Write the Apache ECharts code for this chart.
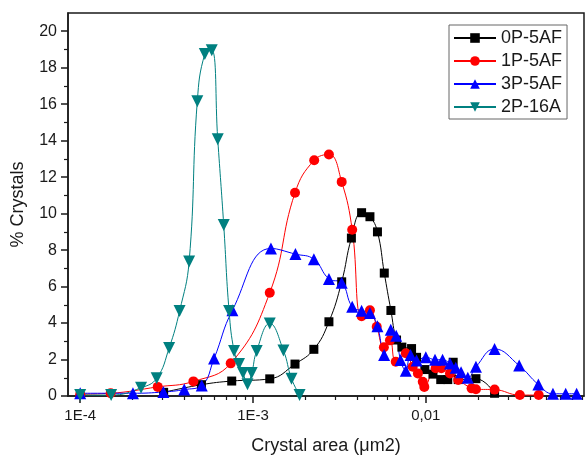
<!DOCTYPE html>
<html>
<head>
<meta charset="utf-8">
<script src="https://cdn.jsdelivr.net/npm/echarts@6/dist/echarts.min.js"></script>
<style>
  html, body { margin: 0; padding: 0; background: #fff; }
  #chart { width: 586px; height: 456px; }
</style>
</head>
<body>
<div id="chart"></div>
<script>
// series: [crystal area (um2), % crystals]
const names = ['0P-5AF', '1P-5AF', '3P-5AF', '2P-16A'];
const data0P = [
  [3.04e-4, 0.2], [5.03e-4, 0.62], [7.53e-4, 0.82], [1.25e-3, 0.94], [1.75e-3, 1.75],
  [2.25e-3, 2.56], [2.75e-3, 4.07], [3.26e-3, 6.26], [3.71e-3, 8.66], [4.25e-3, 10.05],
  [4.75e-3, 9.83], [5.25e-3, 9.0], [5.75e-3, 6.74], [6.28e-3, 4.69], [6.77e-3, 3.07],
  [7.27e-3, 2.68], [8.27e-3, 2.6], [8.84e-3, 2.12], [9.87e-3, 1.45], [1.10e-2, 1.2],
  [1.22e-2, 0.9], [1.34e-2, 0.9], [1.44e-2, 1.85], [1.54e-2, 0.9], [1.95e-2, 0.95],
  [2.5e-2, 0.15]
];
const data1P = [
  [1.0e-4, 0.1], [1.5e-4, 0.15], [2.81e-4, 0.5], [4.52e-4, 0.8], [7.43e-4, 1.79],
  [1.25e-3, 5.66], [1.75e-3, 11.14], [2.26e-3, 12.93], [2.75e-3, 13.24], [3.26e-3, 11.74],
  [3.75e-3, 9.12], [4.25e-3, 4.37], [4.75e-3, 4.7], [5.2e-3, 3.8], [5.72e-3, 2.67],
  [6.2e-3, 3.05], [6.7e-3, 1.88], [7.66e-3, 2.34], [8.4e-3, 1.6], [9.0e-3, 1.24],
  [9.6e-3, 0.78], [9.8e-3, 0.5], [1.14e-2, 1.52], [1.23e-2, 1.52], [1.38e-2, 1.24],
  [1.54e-2, 0.88], [1.84e-2, 0.42], [1.95e-2, 0.37], [2.5e-2, 0.35], [3.5e-2, 0.05],
  [4.5e-2, 0.05]
];
const data3P = [
  [1.0e-4, 0.15], [2.02e-4, 0.15], [3.03e-4, 0.22], [4.0e-4, 0.35], [5.05e-4, 0.58],
  [5.95e-4, 2.05], [7.6e-4, 4.7], [1.27e-3, 8.09], [1.76e-3, 7.78], [2.25e-3, 7.5],
  [2.75e-3, 6.42], [3.26e-3, 6.21], [3.75e-3, 4.89], [4.25e-3, 4.68], [4.75e-3, 4.55],
  [5.25e-3, 3.82], [5.74e-3, 2.25], [6.27e-3, 3.63], [6.74e-3, 3.31], [7.14e-3, 1.97],
  [7.66e-3, 1.39], [8.16e-3, 2.25], [8.84e-3, 1.95], [1.0e-2, 2.13], [1.13e-2, 1.99],
  [1.25e-2, 1.99], [1.38e-2, 1.78], [1.49e-2, 1.55], [1.6e-2, 1.3], [1.75e-2, 1.0],
  [1.95e-2, 1.6], [2.5e-2, 2.58], [3.47e-2, 1.67], [4.48e-2, 0.63], [5.44e-2, 0.12],
  [6.45e-2, 0.12], [7.46e-2, 0.12]
];
const data2P = [
  [1.0e-4, 0.05], [1.51e-4, 0.05], [2.25e-4, 0.45], [2.77e-4, 0.97], [3.27e-4, 2.63],
  [3.76e-4, 4.66], [4.27e-4, 7.38], [4.76e-4, 16.16], [5.26e-4, 18.75], [5.77e-4, 18.96],
  [6.25e-4, 14.08], [6.77e-4, 9.37], [7.27e-4, 4.66], [7.77e-4, 2.47], [8.3e-4, 1.75],
  [8.75e-4, 1.26], [9.29e-4, 0.65], [9.83e-4, 1.26], [1.05e-3, 2.47], [1.25e-3, 3.98],
  [1.5e-3, 2.5], [1.67e-3, 0.95], [1.86e-3, 0.05]
];

const xMajorTicks = [1e-4, 1e-3, 1e-2];
const xTickLabels = ['1E-4', '1E-3', '0,01'];
const xMinorTicks = [
  2e-4, 3e-4, 4e-4, 5e-4, 6e-4, 7e-4, 8e-4, 9e-4,
  2e-3, 3e-3, 4e-3, 5e-3, 6e-3, 7e-3, 8e-3, 9e-3,
  2e-2, 3e-2, 4e-2, 5e-2, 6e-2, 7e-2, 8e-2
];
const yMajorTicks = [0, 2, 4, 6, 8, 10, 12, 14, 16, 18, 20];
const yMinorTicks = [1, 3, 5, 7, 9, 11, 13, 15, 17, 19];

const font = '"Liberation Sans", Arial, sans-serif';
const ink = '#1a1a1a';
const xMin = 8.5e-5, xMax = 0.0823;

const chart = echarts.init(document.getElementById('chart'));

function xLabel(v) {
  const i = xMajorTicks.findIndex(t => Math.abs(Math.log10(v / t)) < 0.01);
  return i >= 0 ? xTickLabels[i] : '';
}

function lineSeries(name, data, color, symbol, size, rotate) {
  return {
    name: name, type: 'line', data: data,
    xAxisIndex: 0, yAxisIndex: 0,
    smooth: 0.45,
    symbol: symbol, symbolSize: size, symbolRotate: rotate || 0,
    lineStyle: { color: color, width: 1 },
    itemStyle: { color: color },
    emphasis: { disabled: true }
  };
}

chart.setOption({
  animation: false,
  grid: {
    left: 68, top: 13, right: 2, bottom: 60,
    containLabel: false, outerBoundsMode: 'none',
    show: true, borderColor: ink, borderWidth: 1.5
  },
  legend: {
    orient: 'vertical', left: 449, top: 25,
    padding: [4, 5, 3, 4], itemGap: 5, itemWidth: 42, itemHeight: 12,
    backgroundColor: '#fff', borderColor: '#666', borderWidth: 1,
    textStyle: { fontSize: 18, color: ink, fontFamily: font },
    data: names
  },
  xAxis: [
    {
      type: 'log', logBase: 10, min: xMin, max: xMax, position: 'bottom',
      name: 'Crystal area (μm2)', nameLocation: 'middle', nameGap: 41,
      nameTextStyle: { fontSize: 18, color: ink, fontFamily: font },
      axisLine: { show: true, lineStyle: { color: ink, width: 1.5 } },
      axisTick: { show: true, length: 7, customValues: xMajorTicks, lineStyle: { color: ink, width: 1.5 } },
      axisLabel: { customValues: xMajorTicks, formatter: xLabel, fontSize: 15, margin: 12, color: ink, fontFamily: font },
      splitLine: { show: false }, minorTick: { show: false }
    },
    {
      type: 'log', logBase: 10, min: xMin, max: xMax, position: 'bottom',
      axisLine: { show: false },
      axisTick: { show: true, length: 4, customValues: xMinorTicks, lineStyle: { color: ink, width: 1.2 } },
      axisLabel: { show: false }, splitLine: { show: false }
    }
  ],
  yAxis: [
    {
      type: 'value', min: 0, max: 21, position: 'left',
      name: '% Crystals', nameLocation: 'middle', nameGap: 41,
      nameTextStyle: { fontSize: 18, color: ink, fontFamily: font },
      axisLine: { show: true, lineStyle: { color: ink, width: 1.5 } },
      axisTick: { show: true, length: 7, customValues: yMajorTicks, lineStyle: { color: ink, width: 1.5 } },
      axisLabel: { customValues: yMajorTicks, fontSize: 16, margin: 11, color: ink, fontFamily: font },
      splitLine: { show: false }
    },
    {
      type: 'value', min: 0, max: 21, position: 'left',
      axisLine: { show: false },
      axisTick: { show: true, length: 4, customValues: yMinorTicks, lineStyle: { color: ink, width: 1.2 } },
      axisLabel: { show: false }, splitLine: { show: false }
    }
  ],
  series: [
    lineSeries(names[0], data0P, '#000000', 'rect', 9),
    lineSeries(names[1], data1P, '#ff0000', 'circle', 10),
    lineSeries(names[2], data3P, '#0000ff', 'triangle', 12),
    lineSeries(names[3], data2P, '#008080', 'triangle', 12, 180)
  ]
});
window.addEventListener('resize', function () { chart.resize(); });
</script>
</body>
</html>
